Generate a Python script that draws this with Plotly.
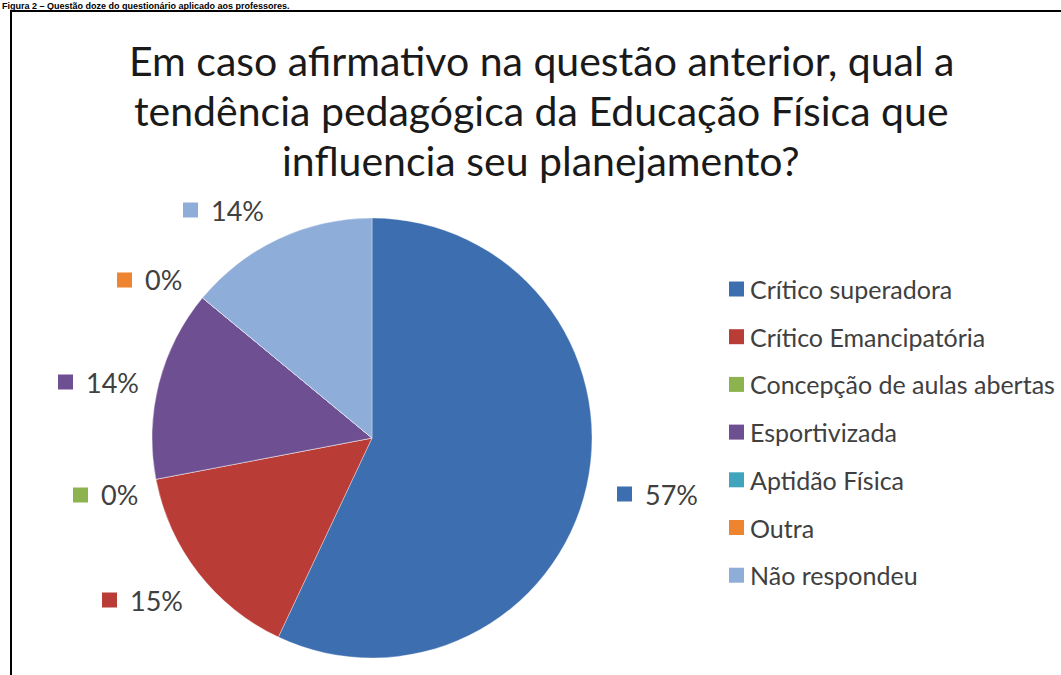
import plotly.graph_objects as go

# ---- data ----
categories = ["Crítico superadora", "Crítico Emancipatória", "Concepção de aulas abertas",
              "Esportivizada", "Aptidão Física", "Outra", "Não respondeu"]
values = [57, 15, 0, 14, 0, 0, 14]
colors = ["#3D6FB0", "#BA3C36", "#8DB34E", "#6E4F92", "#3FA4BC", "#EE8330", "#8FADD9"]
title_lines = ["Em caso afirmativo na questão anterior, qual a",
               "tendência pedagógica da Educação Física que",
               "influencia seu planejamento?"]
caption = "Figura 2 – Questão doze do questionário aplicado aos professores."

# ---- layout constants (pixels) ----
W, H = 1061, 675
FONT = "Lato"
cx, cy, r = 372, 438, 220
# label anchor positions (square left x, center y) per category; None = hidden
label_pos = [(617, 494), (102, 600), (73, 495), (58, 382), None, (117, 280), (183, 210)]
legend_x, legend_y0, legend_dy = 729, 289, 47.7
title_y = [60, 110, 160]
SQ = 15


def px(x):
    return x / W


def py(y):
    return 1 - y / H


fig = go.Figure(go.Pie(
    labels=categories, values=values, sort=False, direction="clockwise",
    rotation=0, textinfo="none", hoverinfo="label+percent",
    marker=dict(colors=colors, line=dict(color="rgba(255,255,255,0.35)", width=1)),
    domain=dict(x=[px(cx - r), px(cx + r)], y=[py(cy + r), py(cy - r)]),
    showlegend=False,
))

annotations = []
shapes = []
total = sum(values)

# data labels
for i, pos in enumerate(label_pos):
    if pos is None:
        continue
    x0, yc = pos
    shapes.append(dict(type="rect", xref="paper", yref="paper",
                       x0=px(x0), x1=px(x0 + SQ), y0=py(yc + SQ / 2), y1=py(yc - SQ / 2),
                       fillcolor=colors[i], line=dict(width=0)))
    annotations.append(dict(x=px(x0 + SQ + 11), y=py(yc), xref="paper", yref="paper",
                            xanchor="left", yanchor="middle", showarrow=False,
                            text=f"{round(values[i] / total * 100)}%",
                            font=dict(family=FONT, size=27, color="#404040")))

# legend
for i, cat in enumerate(categories):
    yc = legend_y0 + i * legend_dy
    shapes.append(dict(type="rect", xref="paper", yref="paper",
                       x0=px(legend_x), x1=px(legend_x + SQ), y0=py(yc + SQ / 2), y1=py(yc - SQ / 2),
                       fillcolor=colors[i], line=dict(width=0)))
    annotations.append(dict(x=px(legend_x + SQ + 4), y=py(yc), xref="paper", yref="paper",
                            xanchor="left", yanchor="middle", showarrow=False,
                            text=cat, font=dict(family=FONT, size=25, color="#404040")))

# title (one annotation per line for exact spacing)
for line, ty in zip(title_lines, title_y):
    annotations.append(dict(x=px(541), y=py(ty), xref="paper", yref="paper",
                            xanchor="center", yanchor="middle", showarrow=False,
                            text=line, font=dict(family=FONT, size=41, color="#1a1a1a")))

# caption at top
annotations.append(dict(x=px(1), y=py(0), xref="paper", yref="paper",
                        xanchor="left", yanchor="top", showarrow=False,
                        text=f"<b>{caption}</b>", borderpad=0,
                        font=dict(family="Liberation Sans", size=9, color="#000")))

# border
shapes.append(dict(type="line", xref="paper", yref="paper",
                   x0=px(10), x1=px(W + 5), y0=py(11), y1=py(11),
                   line=dict(color="#000", width=2)))
shapes.append(dict(type="line", xref="paper", yref="paper",
                   x0=px(11), x1=px(11), y0=py(10), y1=py(H + 5),
                   line=dict(color="#000", width=2)))

fig.update_layout(
    width=W, height=H, margin=dict(l=0, r=0, t=0, b=0),
    paper_bgcolor="white", plot_bgcolor="white",
    annotations=annotations, shapes=shapes, showlegend=False,
)

fig.write_html("out.html", config={"displayModeBar": False},
               post_script="document.body.style.margin='0';document.body.style.overflow='hidden';")
